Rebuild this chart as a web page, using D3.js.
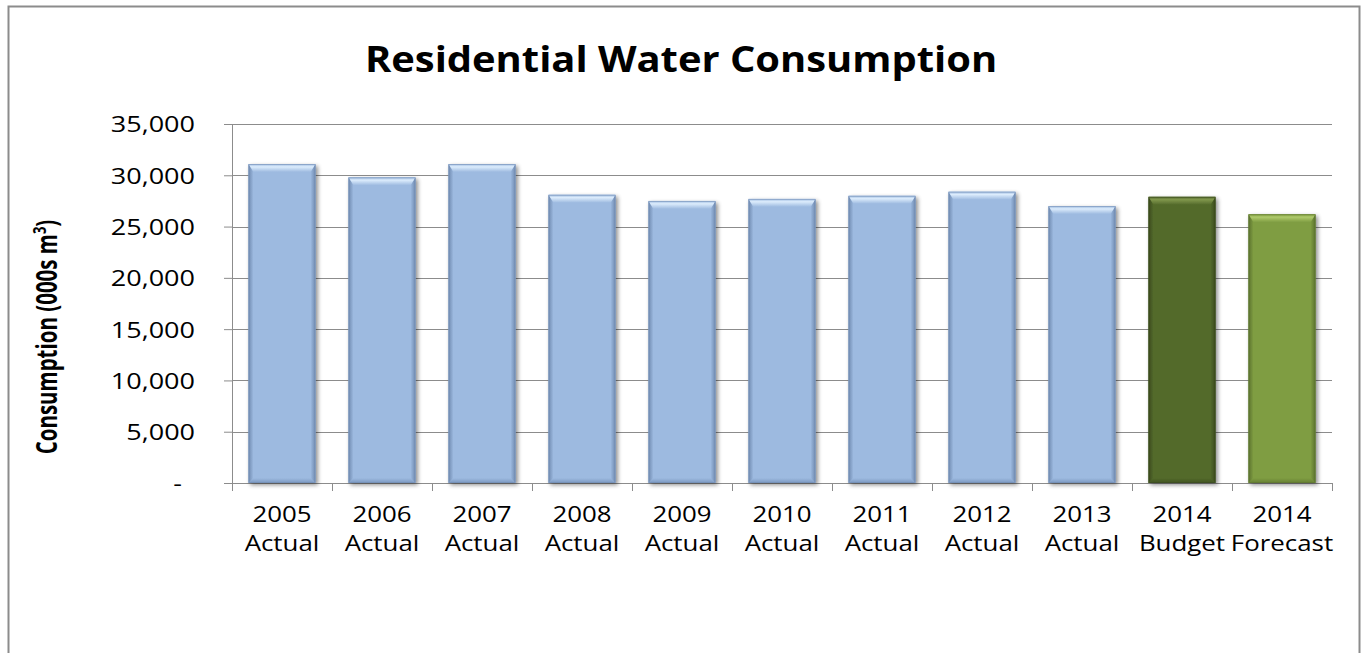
<!DOCTYPE html>
<html>
<head>
<meta charset="utf-8">
<script src="https://cdn.jsdelivr.net/npm/d3@7"></script>
<style>
  html, body { margin: 0; padding: 0; background: #fff; }
  svg { display: block; }
</style>
</head>
<body>
<svg id="chart" width="1365" height="653"></svg>
<script>
// Residential water consumption, thousands of cubic metres
const years = ["2005", "2006", "2007", "2008", "2009", "2010", "2011", "2012", "2013", "2014", "2014"];
const kinds = ["Actual", "Actual", "Actual", "Actual", "Actual", "Actual", "Actual", "Actual", "Actual", "Budget", "Forecast"];
const consumption = [31100, 29800, 31100, 28100, 27500, 27700, 28000, 28400, 27000, 27900, 26200];
const yTicks = [0, 5000, 10000, 15000, 20000, 25000, 30000, 35000];

const palette = {
  Actual:   { base: "#9dbae0", light: "#dcecfc", dark: "#7b98c0", edge: "#6f8ab0" },
  Budget:   { base: "#536a2b", light: "#81974c", dark: "#415322", edge: "#3a4a1e" },
  Forecast: { base: "#7f9d42", light: "#afca6c", dark: "#667f34", edge: "#5b722e" }
};

const FONT = "'Open Sans', sans-serif";
const WIDEN = 1.2;   // text is drawn slightly widened

const svg = d3.select("#chart");
const W = 1365, H = 653;
const margin = { left: 232, right: 33, top: 124, bottom: 170 };
const plotW = W - margin.left - margin.right;   // 1100
const plotH = H - margin.top - margin.bottom;   // 359

// outer chart frame
svg.append("rect")
  .attr("x", 8.5).attr("y", 6.5)
  .attr("width", 1351).attr("height", 700)
  .attr("fill", "#fff").attr("stroke", "#8c8c8c").attr("stroke-width", 2);

svg.append("text")
  .attr("transform", "translate(681,72) scale(1.14,1)")
  .attr("text-anchor", "middle")
  .attr("font-family", FONT)
  .attr("font-weight", "bold")
  .attr("font-size", 35)
  .attr("fill", "#000")
  .text("Residential Water Consumption");

const g = svg.append("g").attr("transform", `translate(${margin.left},${margin.top})`);

const idx = d3.range(consumption.length);
const x = d3.scaleBand().domain(idx).range([0, plotW]).paddingInner(0.33).paddingOuter(0.165);
const y = d3.scaleLinear().domain([0, 35000]).range([plotH, 0]);

// horizontal gridlines
g.append("g").selectAll("line").data(yTicks.slice(1)).join("line")
  .attr("x1", 0).attr("x2", plotW)
  .attr("y1", d => Math.round(y(d)) + 0.5).attr("y2", d => Math.round(y(d)) + 0.5)
  .attr("stroke", "#8c8c8c").attr("stroke-width", 1);

// y axis
const fmt = d => d === 0 ? "-" : d3.format(",")(d);
const yAxis = g.append("g")
  .call(d3.axisLeft(y).tickValues(yTicks).tickFormat(fmt).tickSize(8).tickPadding(37));
yAxis.select(".domain").attr("stroke", "#8c8c8c");
yAxis.selectAll(".tick line").attr("stroke", "#8c8c8c");
yAxis.selectAll(".tick text")
  .attr("font-family", FONT)
  .attr("font-size", 22.5)
  .attr("fill", "#000")
  .attr("x", 0)
  .attr("dy", "0.35em")
  .attr("transform", d => `translate(${d === 0 ? -50 : -37},0) scale(${WIDEN},1)`);

// x axis with category boundary ticks
const xAxisG = g.append("g").attr("transform", `translate(0,${plotH})`);
xAxisG.append("line").attr("x1", 0).attr("x2", plotW).attr("y1", 0.5).attr("y2", 0.5).attr("stroke", "#8c8c8c");
const step = x.step();
xAxisG.selectAll("line.b").data(d3.range(consumption.length + 1)).join("line")
  .attr("class", "b")
  .attr("x1", d => Math.round(d * step) + 0.5).attr("x2", d => Math.round(d * step) + 0.5)
  .attr("y1", 0).attr("y2", 8)
  .attr("stroke", "#8c8c8c");

const labels = xAxisG.selectAll("text.cat").data(idx).join("text")
  .attr("class", "cat")
  .attr("text-anchor", "middle")
  .attr("font-family", FONT)
  .attr("font-size", 22.5)
  .attr("fill", "#000")
  .attr("transform", i => `translate(${x(i) + x.bandwidth() / 2},0) scale(1.15,1)`);
labels.append("tspan").attr("x", 0).attr("y", 39).text(i => years[i]);
labels.append("tspan").attr("x", 0).attr("y", 68).text(i => kinds[i]);

// y axis title
const yt = svg.append("text")
  .attr("transform", "translate(57,337) scale(1.4,1) rotate(-90)")
  .attr("text-anchor", "middle")
  .attr("font-family", FONT)
  .attr("font-weight", "bold")
  .attr("font-size", 20.5)
  .attr("fill", "#000");
yt.append("tspan").text("Consumption (000s m");
yt.append("tspan").attr("dy", -8).attr("font-size", 13).text("3");
yt.append("tspan").attr("dy", 8).text(")");

// gradients and shadow for the bevelled bars
const defs = svg.append("defs");
const shadow = defs.append("filter").attr("id", "shadow").attr("x", "-20%").attr("y", "-20%").attr("width", "140%").attr("height", "140%");
shadow.append("feGaussianBlur").attr("in", "SourceAlpha").attr("stdDeviation", 2.2);
shadow.append("feOffset").attr("dx", 1.5).attr("dy", 1.5).attr("result", "b");
shadow.append("feComponentTransfer").append("feFuncA").attr("type", "linear").attr("slope", 0.45);
const merge = shadow.append("feMerge");
merge.append("feMergeNode");
merge.append("feMergeNode").attr("in", "SourceGraphic");

Object.entries(palette).forEach(([k, c]) => {
  const top = defs.append("linearGradient").attr("id", "top-" + k).attr("x1", 0).attr("y1", 0).attr("x2", 0).attr("y2", 1);
  top.append("stop").attr("offset", 0).attr("stop-color", c.base);
  top.append("stop").attr("offset", 0.35).attr("stop-color", c.light);
  top.append("stop").attr("offset", 1).attr("stop-color", c.base);
  const left = defs.append("linearGradient").attr("id", "left-" + k).attr("x1", 0).attr("y1", 0).attr("x2", 1).attr("y2", 0);
  left.append("stop").attr("offset", 0).attr("stop-color", c.edge);
  left.append("stop").attr("offset", 1).attr("stop-color", c.base);
  const right = defs.append("linearGradient").attr("id", "right-" + k).attr("x1", 0).attr("y1", 0).attr("x2", 1).attr("y2", 0);
  right.append("stop").attr("offset", 0).attr("stop-color", c.base);
  right.append("stop").attr("offset", 1).attr("stop-color", c.edge);
  const bot = defs.append("linearGradient").attr("id", "bot-" + k).attr("x1", 0).attr("y1", 0).attr("x2", 0).attr("y2", 1);
  bot.append("stop").attr("offset", 0).attr("stop-color", c.base);
  bot.append("stop").attr("offset", 1).attr("stop-color", c.dark);
});

const bw = x.bandwidth();
const bev = 8, side = 5, bb = 5;
const bars = g.append("g").selectAll("g.bar").data(idx).join("g")
  .attr("class", "bar")
  .attr("filter", "url(#shadow)");

bars.each(function (i) {
  const k = kinds[i];
  const c = palette[k];
  const x0 = x(i), x1 = x(i) + bw;
  const y0 = y(consumption[i]), y1 = y(0);
  const s = d3.select(this);
  s.append("rect").attr("x", x0).attr("y", y0).attr("width", bw).attr("height", y1 - y0).attr("fill", c.base);
  // left and right bevel faces
  s.append("polygon").attr("points", [[x0, y0], [x0 + side, y0 + bev], [x0 + side, y1 - bb], [x0, y1]].join(" "))
    .attr("fill", `url(#left-${k})`);
  s.append("polygon").attr("points", [[x1, y0], [x1 - side, y0 + bev], [x1 - side, y1 - bb], [x1, y1]].join(" "))
    .attr("fill", `url(#right-${k})`);
  // bottom bevel face
  s.append("polygon").attr("points", [[x0, y1], [x0 + side, y1 - bb], [x1 - side, y1 - bb], [x1, y1]].join(" "))
    .attr("fill", `url(#bot-${k})`);
  // top bevel face
  s.append("polygon").attr("points", [[x0, y0], [x1, y0], [x1 - side, y0 + bev], [x0 + side, y0 + bev]].join(" "))
    .attr("fill", `url(#top-${k})`);
  s.append("rect").attr("x", x0 + 0.5).attr("y", y0 + 0.5).attr("width", bw - 1).attr("height", y1 - y0 - 1)
    .attr("fill", "none").attr("stroke", c.edge).attr("stroke-opacity", 0.5);
});
</script>
</body>
</html>
